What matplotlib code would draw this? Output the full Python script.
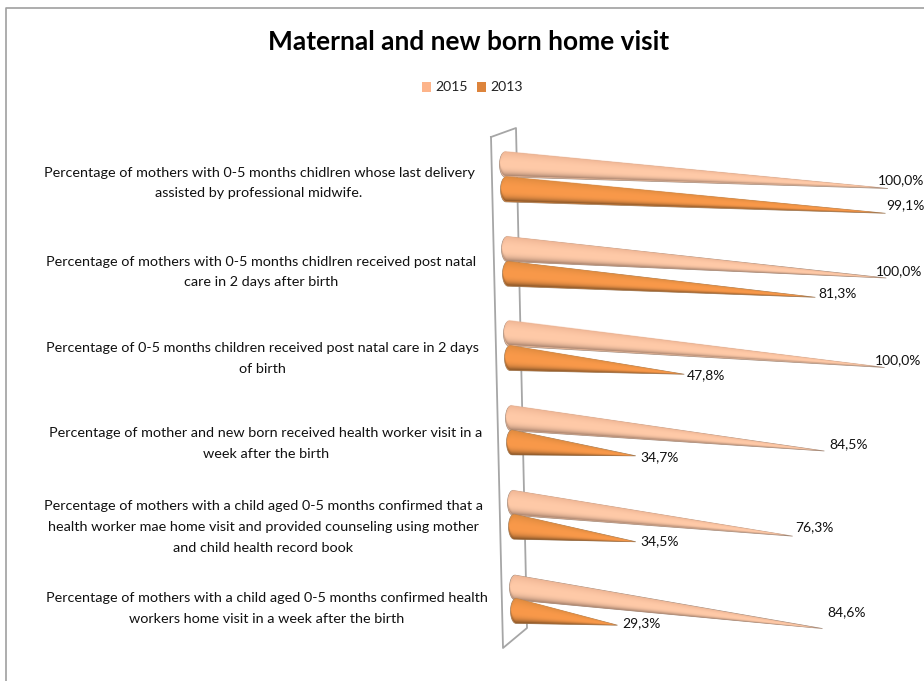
import numpy as np
import matplotlib
matplotlib.use("Agg")
import matplotlib.pyplot as plt
from matplotlib.colors import to_rgb
from matplotlib.patches import Polygon, Rectangle

plt.rcParams['font.family'] = ['Lato', 'DejaVu Sans']

TITLE = "Maternal and new born home visit"
SERIES = ["2015", "2013"]
CATEGORIES = [
    "Percentage of mothers with 0-5 months chidlren whose last delivery\nassisted by professional midwife.",
    "Percentage of mothers with 0-5 months chidlren received post natal\ncare in 2 days after birth",
    "Percentage of 0-5 months children received post natal care in 2 days\nof birth",
    "Percentage of mother and new born received health worker visit in a\nweek after the birth",
    "Percentage of mothers with a child aged 0-5 months confirmed that a\nhealth worker mae home visit and provided counseling using mother\nand child health record book",
    "Percentage of mothers with a child aged 0-5 months confirmed health\nworkers home visit in a week after the birth",
]
VALUES_2015 = [100.0, 100.0, 100.0, 84.5, 76.3, 84.6]
VALUES_2013 = [99.1, 81.3, 47.8, 34.7, 34.5, 29.3]

W, H = 924, 681
fig = plt.figure(figsize=(W / 100, H / 100), dpi=100)
ax = fig.add_axes([0, 0, 1, 1])
ax.set_xlim(0, W)
ax.set_ylim(H, 0)
ax.axis("off")


# simple oblique projection of the 3D chart: value, category and series to the page
def project(value, row, s):
    x0 = 499.5 + 2.0 * row + 1.0 * s
    yc = 164.5 + 84.6 * row + (25.0 - 0.3 * row) * s
    k = 3.885 - 0.037 * row - 0.05 * s * (row > 1)
    slope = 0.24 + 0.049 * row
    return x0 + k * value, yc + slope * value


COLS = ["#ffcaa8", "#f9994a"]
DARKS = ["#9a7865", "#754a22"]
TOPS = ["#eeb493", "#de8a3e"]
OUTLINES = ["#a08878", "#9a7a5a"]
RX, RY = 5.5, 12.4


def shade(t, s):
    # t in [-1, 1], -1 top edge, +1 bottom edge
    c = np.array(to_rgb(COLS[s]))
    dark = np.array(to_rgb(DARKS[s]))
    top = np.array(to_rgb(TOPS[s]))
    t = np.clip(t, -1, 1)[..., None]
    lower = c + (dark - c) * np.clip(t, 0, 1) ** 3
    upper = c + (top - c) * np.clip(-t, 0, 1) ** 2
    return np.where(t >= 0, lower, upper)


def cone(value, row, s):
    x0, yc = project(0, row, s)
    tx, ty = project(value, row, s)
    cx = x0 + RX
    z = 3 + row * 0.1 + s * 0.01

    th = np.linspace(np.pi / 2, 3 * np.pi / 2, 30)
    outline = np.column_stack([cx + RX * np.cos(th), yc - RY * np.sin(th)])
    outline = np.vstack([outline, [tx, ty]])
    ax.add_patch(Polygon(outline, closed=True, facecolor=COLS[s], edgecolor=OUTLINES[s],
                         linewidth=0.5, zorder=z))

    # shaded surface, from the distance across the cone
    xmin, xmax = x0 - 1, tx + 1
    ymin, ymax = min(yc - RY, ty) - 1, max(yc + RY, ty) + 1
    ss = 3
    nx, ny = int((xmax - xmin) * ss), int((ymax - ymin) * ss)
    xs = xmin + (np.arange(nx) + 0.5) / ss
    ys = ymin + (np.arange(ny) + 0.5) / ss
    X, Y = np.meshgrid(xs, ys)
    u = (X - cx) / (tx - cx)
    center = yc + (ty - yc) * np.clip(u, 0, 1)
    hw = RY * (1 - np.clip(u, 0, 1))
    left = u < 0
    hw = np.where(left, RY * np.sqrt(np.clip(1 - ((X - cx) / RX) ** 2, 0, 1)), hw)
    hw = np.maximum(hw, 1e-3)
    t = (Y - center) / hw
    alpha = np.clip((1 - np.abs(t)) * hw / 0.5, 0, 1)
    rgba = np.dstack([shade(t, s), alpha])
    ax.imshow(rgba, extent=(xmin, xmax, ymax, ymin), origin="upper", aspect="auto",
              interpolation="bilinear", zorder=z + 0.001)


for row, (a, b) in enumerate(zip(VALUES_2015, VALUES_2013)):
    cone(b, row, 1)
    cone(a, row, 0)
ax.set_xlim(0, W)
ax.set_ylim(H, 0)

# 3D wall
wall = [(491, 137), (516, 128), (527, 628), (503, 648), (491, 137)]
ax.plot(*zip(*wall), color="#a6a6a6", lw=1.3, zorder=2)

# chart frame (top and left only are inside the picture)
ax.plot([5.5, 5.5, 924], [681, 8, 8], color="#a0a0a0", lw=1.2, zorder=1)

ax.text(469, 42.5, TITLE, ha="center", va="center", fontsize=18.9, fontweight="bold", color="#000000")

# legend
for lx, name, col in zip([422, 477], SERIES, ["#fdb48a", "#dd843c"]):
    ax.add_patch(Rectangle((lx, 82), 9, 10, facecolor=col, edgecolor="none"))
    ax.text(lx + 13, 87, name, ha="left", va="center", fontsize=10.1, color="#222222")

# category labels
LABEL_Y = [183, 272, 358.5, 443.5, 527, 608.5]
LABEL_X = [259, 261, 262.5, 266, 263, 266.5]
for lab, lx, ly in zip(CATEGORIES, LABEL_X, LABEL_Y):
    ax.text(lx, ly, lab, ha="center", va="center", fontsize=10.35, color="#111111",
            linespacing=1.87)

# data labels
OFF_2015 = [(-10, -8), (-10, -7), (-10, -7), (24, -7), (22, -9), (24, -16)]
OFF_2013 = [(1, -8), (22, -4), (22, 1), (24, 1), (24, -1), (24, -2)]
for row in range(len(CATEGORIES)):
    for s, (vals, offs) in enumerate([(VALUES_2015, OFF_2015), (VALUES_2013, OFF_2013)]):
        x, y = project(vals[row], row, s)
        txt = f"{vals[row]:.1f}%".replace(".", ",")
        ax.text(x + offs[row][0], y + offs[row][1], txt, ha="left" if offs[row][0] < 5 else "center",
                va="center", fontsize=10.0, color="#111111", clip_on=False)

fig.savefig("out.png", dpi=100)
